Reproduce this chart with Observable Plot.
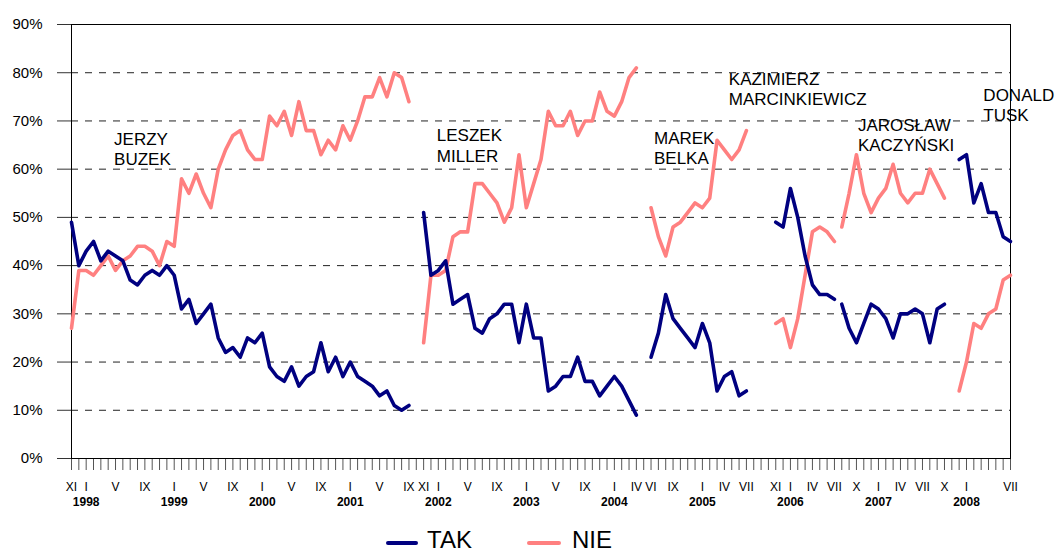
<!DOCTYPE html>
<html>
<head>
<meta charset="utf-8">
<script src="https://cdn.jsdelivr.net/npm/d3@7"></script>
<script src="https://cdn.jsdelivr.net/npm/@observablehq/plot@0.6"></script>
<style>
  html, body { margin: 0; padding: 0; background: #fff; }
  #wrap { width: 1056px; font-family: "Liberation Sans", Arial, sans-serif; }
  #legend { position: relative; width: 1056px; height: 34px; }
  #legend .sw { position: absolute; height: 4px; border-radius: 2px; }
  #legend .lb { position: absolute; font-size: 24px; line-height: 18px; color: #000; white-space: nowrap; }
</style>
</head>
<body>
<div id="wrap">
  <div id="chart"></div>
  <div id="legend">
    <div class="sw" style="left:386px;top:21px;width:32px;background:#000080"></div>
    <span class="lb" style="left:427px;top:11px">TAK</span>
    <div class="sw" style="left:527px;top:21px;width:34px;background:#FF8080"></div>
    <span class="lb" style="left:572px;top:11px">NIE</span>
  </div>
</div>
<script>
// ---- data (monthly survey results, %) ----
const takBuzek = [49,40,43,45,41,43,42,41,37,36,38,39,38,40,38,31,33,28,30,32,25,22,23,21,25,24,26,19,17,16,19,15,17,18,24,18,21,17,20,17,16,15,13,14,11,10,11];
const nieBuzek = [27,39,39,38,40,42,39,41,42,44,44,43,40,45,44,58,55,59,55,52,60,64,67,68,64,62,62,71,69,72,67,74,68,68,63,66,64,69,66,70,75,75,79,75,80,79,74];
const takMiller = [51,38,39,41,32,33,34,27,26,29,30,32,32,24,32,25,25,14,15,17,17,21,16,16,13,15,17,15,12,9];
const nieMiller = [24,38,38,39,46,47,47,57,57,55,53,49,52,63,52,57,62,72,69,69,72,67,70,70,76,72,71,74,79,81];
const takBelka = [21,26,34,29,27,25,23,28,24,14,17,18,13,14];
const nieBelka = [52,46,42,48,49,51,53,52,54,66,64,62,64,68];
const takMarcinkiewicz = [49,48,56,50,42,36,34,34,33];
const nieMarcinkiewicz = [28,29,23,29,38,47,48,47,45];
const takKaczynski = [32,27,24,28,32,31,29,25,30,30,31,30,24,31,32];
const nieKaczynski = [48,55,63,55,51,54,56,61,55,53,55,55,60,57,54];
const takTusk = [62,63,53,57,51,51,46,45];
const nieTusk = [14,20,28,27,30,31,37,38];

// first survey month of each government (year, month)
const govStarts = [[1997,11],[2001,11],[2004,6],[2005,11],[2006,8],[2007,12]];
const govNames = ["Buzek","Miller","Belka","Marcinkiewicz","Kaczynski","Tusk"];
const govTak = [takBuzek, takMiller, takBelka, takMarcinkiewicz, takKaczynski, takTusk];
const govNie = [nieBuzek, nieMiller, nieBelka, nieMarcinkiewicz, nieKaczynski, nieTusk];

// axis labels
const tickMonths = [[1997,11],[1998,1],[1998,5],[1998,9],[1999,1],[1999,5],[1999,9],[2000,1],[2000,5],[2000,9],
  [2001,1],[2001,5],[2001,9],[2001,11],[2002,1],[2002,5],[2002,9],[2003,1],[2003,5],[2003,9],
  [2004,1],[2004,4],[2004,6],[2004,9],[2005,1],[2005,4],[2005,7],[2005,11],[2006,1],[2006,4],[2006,7],
  [2006,10],[2007,1],[2007,4],[2007,7],[2007,10],[2008,1],[2008,7]];
const romans = ["I","II","III","IV","V","VI","VII","VIII","IX","X","XI","XII"];
const years = [1998,1999,2000,2001,2002,2003,2004,2005,2006,2007,2008];
const yTicks = [0,10,20,30,40,50,60,70,80,90];

// prime-minister annotations (text, month position, % position of top)
const pmText = ["JERZY\nBUZEK","LESZEK\nMILLER","MAREK\nBELKA","KAZIMIERZ\nMARCINKIEWICZ","JAROSŁAW\nKACZYŃSKI","DONALD\nTUSK"];
const pmAt = [[1998,4.8],[2002,0.8],[2004,6.4],[2005,4.6],[2006,10.2],[2008,3.3]];
const pmPct = [67.9, 68.7, 68.1, 80.4, 70.9, 77.0];

// ---- build ----
const mi = (y, m) => (y - 1997) * 12 + (m - 11);
const lastIdx = mi(2008, 7);
const rows = [];
govNames.forEach((g, k) => {
  const s = mi(govStarts[k][0], govStarts[k][1]);
  govTak[k].forEach((v, j) => rows.push({pm: g, i: s + j, v, s: "TAK"}));
  govNie[k].forEach((v, j) => rows.push({pm: g, i: s + j, v, s: "NIE"}));
});
const tickIdx = tickMonths.map(([y, m]) => mi(y, m));
const tickLab = new Map(tickMonths.map(([y, m]) => [mi(y, m), romans[m - 1]]));
const yearIdx = years.map(y => mi(y, 1));
const yearLab = new Map(years.map(y => [mi(y, 1), String(y)]));
const pmLabels = pmText.map((t, k) => ({text: t, x: mi(pmAt[k][0], Math.floor(pmAt[k][1])) + (pmAt[k][1] % 1), y: pmPct[k]}));

const chart = Plot.plot({
  width: 1056,
  height: 520,
  marginLeft: 71,
  marginRight: 46,
  marginTop: 24,
  marginBottom: 62,
  style: {fontFamily: "'Liberation Sans', Arial, sans-serif", background: "white", color: "#000"},
  x: {domain: [0, lastIdx], axis: null},
  y: {domain: [0, 90], axis: null},
  marks: [
    Plot.ruleY(yTicks.filter(d => d > 0 && d < 90), {stroke: "#222", strokeDasharray: "7,7", strokeWidth: 1}),
    Plot.axisY(yTicks, {tickSize: 14, tickPadding: 15, tickFormat: d => d + "%", fontSize: 15, stroke: "#333"}),
    Plot.axisX(d3.range(0, lastIdx + 1), {tickSize: 12, tickFormat: () => "", stroke: "#555"}),
    Plot.axisX(tickIdx, {tickSize: 0, tickPadding: 24, tickFormat: i => tickLab.get(i), fontSize: 12}),
    Plot.axisX(yearIdx, {tickSize: 0, tickPadding: 39, tickFormat: i => yearLab.get(i), fontSize: 12, fontWeight: "bold"}),
    Plot.frame({stroke: "#000"}),
    Plot.line(rows.filter(d => d.s === "NIE"), {x: "i", y: "v", z: "pm", stroke: "#FF8080", strokeWidth: 3.6, curve: "linear"}),
    Plot.line(rows.filter(d => d.s === "TAK"), {x: "i", y: "v", z: "pm", stroke: "#000080", strokeWidth: 3.6, curve: "linear"}),
    Plot.text(pmLabels, {x: "x", y: "y", text: "text", textAnchor: "start", lineAnchor: "top", fontSize: 17, lineHeight: 1.18, fill: "#000", ariaLabel: "pm-labels"})
  ]
});
document.getElementById("chart").appendChild(chart);

// white boxes behind the annotation texts
const ns = "http://www.w3.org/2000/svg";
const lg = chart.querySelector('g[aria-label="pm-labels"]');
if (lg) {
  lg.querySelectorAll("text").forEach(t => {
    const b = t.getBBox();
    const r = document.createElementNS(ns, "rect");
    r.setAttribute("x", b.x - 4);
    r.setAttribute("y", b.y - 1);
    r.setAttribute("width", b.width + 10);
    r.setAttribute("height", b.height + 3);
    r.setAttribute("fill", "white");
    if (t.getAttribute("transform")) r.setAttribute("transform", t.getAttribute("transform"));
    t.parentNode.insertBefore(r, t);
  });
}
</script>
</body>
</html>
